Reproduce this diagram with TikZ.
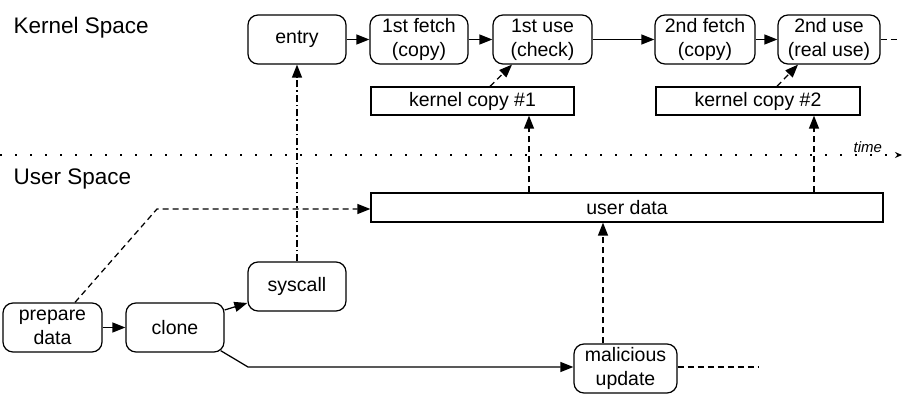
\documentclass[tikz,border=0pt]{standalone}
\usepackage{fontspec}
\setmainfont{Liberation Sans}
\usetikzlibrary{arrows.meta,calc}
\begin{document}
\begin{tikzpicture}[x=1pt,y=1pt,
  line width=1.25pt,
  nodefont/.style={font=\fontsize{19.5}{24}\selectfont},
  rbox/.style={draw,rounded corners=10pt,align=center,inner sep=0pt,nodefont},
  sbox/.style={draw,align=center,inner sep=0pt,nodefont},
  arr/.style={-{Triangle[length=13pt,width=10pt]}},
  dsh/.style={dash pattern=on 6pt off 4pt},
  dasharr/.style={arr,dsh},
  dashdotarr/.style={arr,dash pattern=on 7pt off 3pt on 1.5pt off 3pt},
  lbl/.style={font=\fontsize{22.5}{26}\selectfont,anchor=base west,inner sep=0pt}
]
\useasboundingbox (0,0) rectangle (916,406);
% kernel row
\node[rbox,minimum width=98pt,minimum height=49pt] (entry) at (297,366.5) {entry};
\node[rbox,minimum width=98pt,minimum height=49pt] (fetch1) at (419,366.5) {1st fetch\\(copy)};
\node[rbox,minimum width=99pt,minimum height=49pt] (use1) at (542.5,366.5) {1st use\\(check)};
\node[rbox,minimum width=100pt,minimum height=49pt] (fetch2) at (705,366.5) {2nd fetch\\(copy)};
\node[rbox,minimum width=102pt,minimum height=49pt] (use2) at (829,366.5) {2nd use\\(real use)};
\node[sbox,minimum width=203pt,minimum height=28pt] (copy1) at (472.5,305) {kernel copy \#1};
\node[sbox,minimum width=204pt,minimum height=28pt] (copy2) at (758,305) {kernel copy \#2};
% user row
\node[sbox,minimum width=512pt,minimum height=29pt] (udata) at (627,198.5) {user data};
\node[rbox,minimum width=99pt,minimum height=49pt] (prep) at (52.5,78.5) {prepare\\data};
\node[rbox,minimum width=98pt,minimum height=49pt] (clone) at (175,78.5) {clone};
\node[rbox,minimum width=98pt,minimum height=49pt] (sys) at (297,119.5) {syscall};
\node[rbox,minimum width=103pt,minimum height=49pt] (mal) at (625.5,37.5) {malicious\\update};
% labels
\node[lbl] (ks) at (13,372) {Kernel Space};
\node[lbl] (us) at (13,221) {User Space};
\node[font=\fontsize{15}{18}\selectfont\itshape,anchor=base west,inner sep=0pt] (tm) at (853,253) {time};
% timeline
\coordinate (t0) at (0,251);
\coordinate (t1) at (902,251);
\draw[dash pattern=on 1.5pt off 13.5pt,-{Stealth[length=7pt,width=6pt]}] (t0) -- (t1);
% coordinates
\coordinate (ux1) at (529,0);
\coordinate (ux2) at (814,0);
\coordinate (mx) at (603,0);
\coordinate (px) at (75,0);
\coordinate (pbend) at (157,197);
\coordinate (cbend) at (248,39);
\coordinate (end1) at (900,366.5);
\coordinate (end2) at (758,39);
% kernel chain
\draw[arr] (entry) -- (fetch1);
\draw[arr] (fetch1) -- (use1);
\draw[arr] (use1) -- (fetch2);
\draw[arr] (fetch2) -- (use2);
\draw[dsh] (use2.east) -- (end1);
\draw[dasharr] ([xshift=17.5pt]copy1.north) -- ([xshift=-30.5pt]use1.south);
\draw[dasharr] ([xshift=19pt]copy2.north) -- ([xshift=-31pt]use2.south);
\draw[dasharr] (udata.north -| ux1) -- (copy1.south -| ux1);
\draw[dasharr] (udata.north -| ux2) -- (copy2.south -| ux2);
% user side
\draw[dasharr] (prep.north -| px) -- (pbend) -- (udata.west |- pbend);
\draw[arr] (prep) -- (clone);
\draw[arr] ([yshift=17.5pt]clone.east) -- ([yshift=-16.5pt]sys.west);
\draw[arr] ([xshift=-4pt,yshift=2pt]clone.south east) -- (cbend) -- (mal.west |- cbend);
\draw[dsh] (mal.east |- cbend) -- (end2);
\draw[dasharr] (mal.north -| mx) -- (udata.south -| mx);
\draw[dashdotarr] (sys) -- (entry);
\end{tikzpicture}
\end{document}
